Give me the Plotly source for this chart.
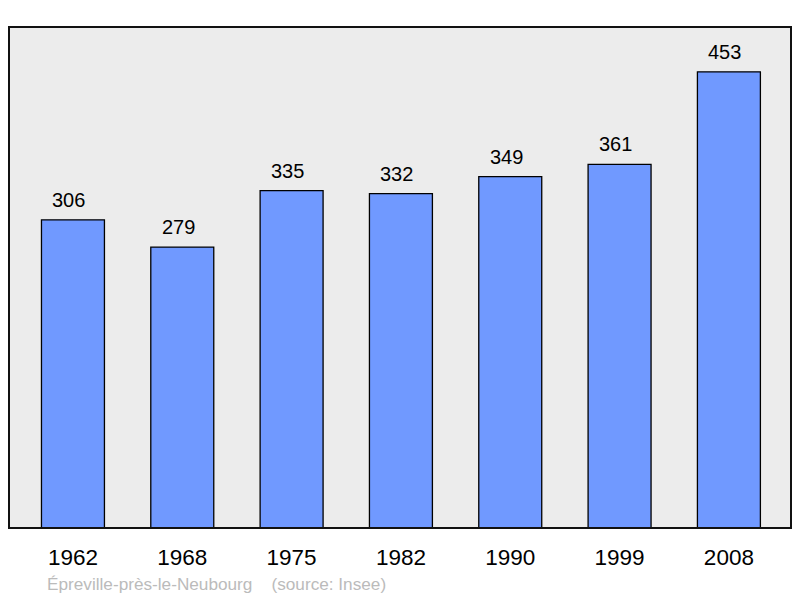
import plotly.graph_objects as go

years = ["1962", "1968", "1975", "1982", "1990", "1999", "2008"]
population = [306, 279, 335, 332, 349, 361, 453]
commune = "Épreville-près-le-Neubourg"
source = "(source: Insee)"

fig = go.Figure()
fig.add_trace(go.Bar(
    x=years, y=population,
    width=0.576,
    marker=dict(color="#7099ff", line=dict(color="black", width=1.3)),
    hoverinfo="x+y",
))

# value labels above each bar (slightly left of centre, like the original)
for i, val in enumerate(population):
    fig.add_annotation(x=i, y=val, xref="x", yref="y", text=str(val),
                       showarrow=False, yshift=20, xshift=-4,
                       font=dict(size=20, color="black"))

fig.add_shape(type="rect", xref="paper", yref="paper", x0=0, y0=0, x1=1, y1=1,
              line=dict(color="#111111", width=2), layer="above")

fig.add_annotation(xref="paper", yref="paper", x=0.046, y=-0.112, xanchor="left",
                   yanchor="middle", showarrow=False,
                   text=f"{commune}    {source}",
                   font=dict(size=17.2, color="#bbbbbb"))

fig.update_layout(
    width=800, height=598,
    margin=dict(l=9, r=9, t=27, b=70),
    paper_bgcolor="white", plot_bgcolor="#ececec",
    font=dict(family="Liberation Sans, Arial, sans-serif"),
    showlegend=False,
    xaxis=dict(type="category", range=[-0.585, 6.568], showgrid=False, zeroline=False,
               ticks="outside", ticklen=9, tickcolor="rgba(0,0,0,0)",
               tickfont=dict(size=22.5, color="black")),
    yaxis=dict(range=[0, 497.5], visible=False),
)

fig.write_html("out.html", config={"displayModeBar": False},
               post_script="document.body.style.margin='0';")
